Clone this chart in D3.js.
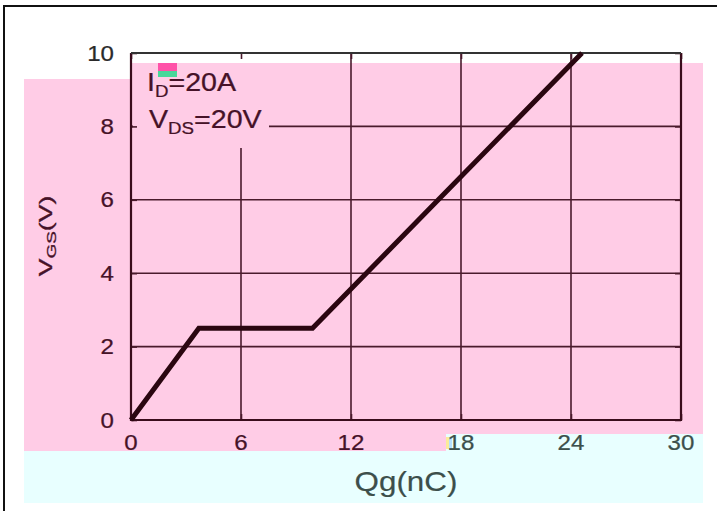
<!DOCTYPE html>
<html><head><meta charset="utf-8">
<script src="https://cdn.jsdelivr.net/npm/d3@7"></script>
<style>
html,body{margin:0;padding:0;background:#fff;}
svg{display:block;font-family:"Liberation Sans",Arial,sans-serif;}
</style></head>
<body>
<svg id="c" width="717" height="511"></svg>
<script>
// ---- data ----
const xTicks = [0, 6, 12, 18, 24, 30];
const yTicks = [0, 2, 4, 6, 8, 10];
const qg  = [0, 3.7, 9.9, 24.6];      // Qg (nC)
const vgs = [0, 2.5, 2.5, 10];        // VGS (V)
const legendLines = [
  {main: "I", sub: "D", rest: "=20A"},
  {main: "V", sub: "DS", rest: "=20V"}
];
const xLabel = "Qg(nC)";

// ---- setup ----
const svg = d3.select("#c");
const x = d3.scaleLinear().domain([0, 30]).range([131, 681]);
const y = d3.scaleLinear().domain([0, 10]).range([420, 53]);

const maroon = "#461228", lineCol = "#4a1a2c", teal = "#3c4f4b";

// background overlay regions
svg.append("rect").attr("width", 717).attr("height", 511).attr("fill", "#fff");
svg.append("path").attr("fill", "#ffcce6")
  .attr("d", "M24,79H131V63H703V434H446V451H24Z");
svg.append("path").attr("fill", "#e8ffff")
  .attr("d", "M24,451H446V434H703V503H24Z");

// outer frame
svg.append("path").attr("d", "M4,511V6H717").attr("fill", "none")
  .attr("stroke", "#111").attr("stroke-width", 2);

// grid
const g = svg.append("g");
g.selectAll(".vg").data(xTicks.filter(d => d > 0 && d < 30)).enter().append("line")
  .attr("x1", d => x(d)).attr("x2", d => x(d))
  .attr("y1", y(0)).attr("y2", y(10))
  .attr("stroke", lineCol).attr("stroke-width", 1.6);
g.selectAll(".hg").data(yTicks.filter(d => d > 0 && d < 10)).enter().append("line")
  .attr("y1", d => y(d)).attr("y2", d => y(d))
  .attr("x1", x(0)).attr("x2", x(30))
  .attr("stroke", lineCol).attr("stroke-width", 1.6);

// legend mask (hides gridlines behind the legend)
svg.append("rect").attr("x", 133).attr("y", 54).attr("width", 136).attr("height", 9).attr("fill", "#fff");
svg.append("rect").attr("x", 133).attr("y", 63).attr("width", 136).attr("height", 85).attr("fill", "#ffcce6");

// inward ticks via axes
const xb = d3.axisBottom(x).tickValues(xTicks).tickSize(-6).tickFormat("");
const xt = d3.axisTop(x).tickValues(xTicks).tickSize(-6).tickFormat("");
const yl = d3.axisLeft(y).tickValues(yTicks).tickSize(-6).tickFormat("");
const yr = d3.axisRight(y).tickValues(yTicks).tickSize(-6).tickFormat("");
[[xb, `translate(0,${y(0)})`], [xt, `translate(0,${y(10)})`],
 [yl, `translate(${x(0)},0)`], [yr, `translate(${x(30)},0)`]].forEach(([ax, tr]) => {
  const a = svg.append("g").attr("transform", tr).call(ax);
  a.select(".domain").remove();
  a.selectAll("line").attr("stroke", lineCol).attr("stroke-width", 1.6);
});

// plot frame
svg.append("path")
  .attr("d", `M${x(0)},${y(10)}V${y(0)}H${x(30)}V${y(10)}`)
  .attr("fill", "none").attr("stroke", "#3a0c1c").attr("stroke-width", 2.2);
svg.append("line").attr("x1", x(0)).attr("x2", x(30)).attr("y1", y(10)).attr("y2", y(10))
  .attr("stroke", "#333").attr("stroke-width", 2.2);

// curve
const pts = qg.map((q, i) => [q, vgs[i]]);
svg.append("path").datum(pts)
  .attr("d", d3.line().x(d => x(d[0])).y(d => y(d[1])))
  .attr("fill", "none").attr("stroke", "#2a0610").attr("stroke-width", 5)
  .attr("stroke-linejoin", "miter");

// small glitch patch near "18"
svg.append("rect").attr("x", 446).attr("y", 437).attr("width", 3).attr("height", 12).attr("fill", "#ffe680").attr("opacity", 0.8);
svg.append("rect").attr("x", 449).attr("y", 437).attr("width", 3).attr("height", 12).attr("fill", "#a8d8ff").attr("opacity", 0.8);

// x tick labels
svg.selectAll(".xl").data(xTicks).enter().append("text")
  .attr("transform", d => `translate(${x(d)},450) scale(1.12,1)`)
  .attr("text-anchor", "middle").attr("font-size", 21.5)
  .attr("fill", d => d >= 18 ? teal : maroon)
  .attr("stroke", d => d >= 18 ? teal : maroon).attr("stroke-width", 0.25)
  .text(d => d);

// y tick labels
svg.selectAll(".yl").data(yTicks).enter().append("text")
  .attr("transform", d => `translate(114,${y(d)}) scale(1.12,1)`)
  .attr("text-anchor", "end").attr("dominant-baseline", "central")
  .attr("font-size", 21.5)
  .attr("fill", d => d === 10 ? "#2a2a2a" : maroon)
  .attr("stroke", d => d === 10 ? "#2a2a2a" : maroon).attr("stroke-width", 0.25)
  .text(d => d);

// legend
svg.append("rect").attr("x", 158).attr("y", 63).attr("width", 19).attr("height", 8).attr("fill", "#ff52a8");
svg.append("rect").attr("x", 158).attr("y", 71).attr("width", 19).attr("height", 6).attr("fill", "#48d89a");
const legY = [91, 128];
const legX = [147, 149];
legendLines.forEach((l, i) => {
  const t = svg.append("text")
    .attr("transform", `translate(${legX[i]},${legY[i]}) scale(1.1,1)`)
    .attr("font-size", 26).attr("fill", maroon)
    .attr("stroke", maroon).attr("stroke-width", 0.25);
  t.append("tspan").text(l.main);
  t.append("tspan").attr("font-size", 17).attr("dy", 6).text(l.sub);
  t.append("tspan").attr("dy", -6).text(l.rest);
});

// y axis label
const ylab = svg.append("text")
  .attr("transform", "translate(52,236) rotate(-90) scale(1.4,1)")
  .attr("text-anchor", "middle").attr("font-size", 19).attr("fill", maroon)
  .attr("stroke", maroon).attr("stroke-width", 0.3);
ylab.append("tspan").text("V");
ylab.append("tspan").attr("font-size", 13.5).attr("dy", 4).text("GS");
ylab.append("tspan").attr("dy", -4).text("(V)");

// x axis label
svg.append("text")
  .attr("transform", "translate(406,491) scale(1.12,1)")
  .attr("text-anchor", "middle").attr("font-size", 28).attr("fill", teal)
  .attr("stroke", teal).attr("stroke-width", 0.2)
  .text(xLabel);
</script>
</body></html>
